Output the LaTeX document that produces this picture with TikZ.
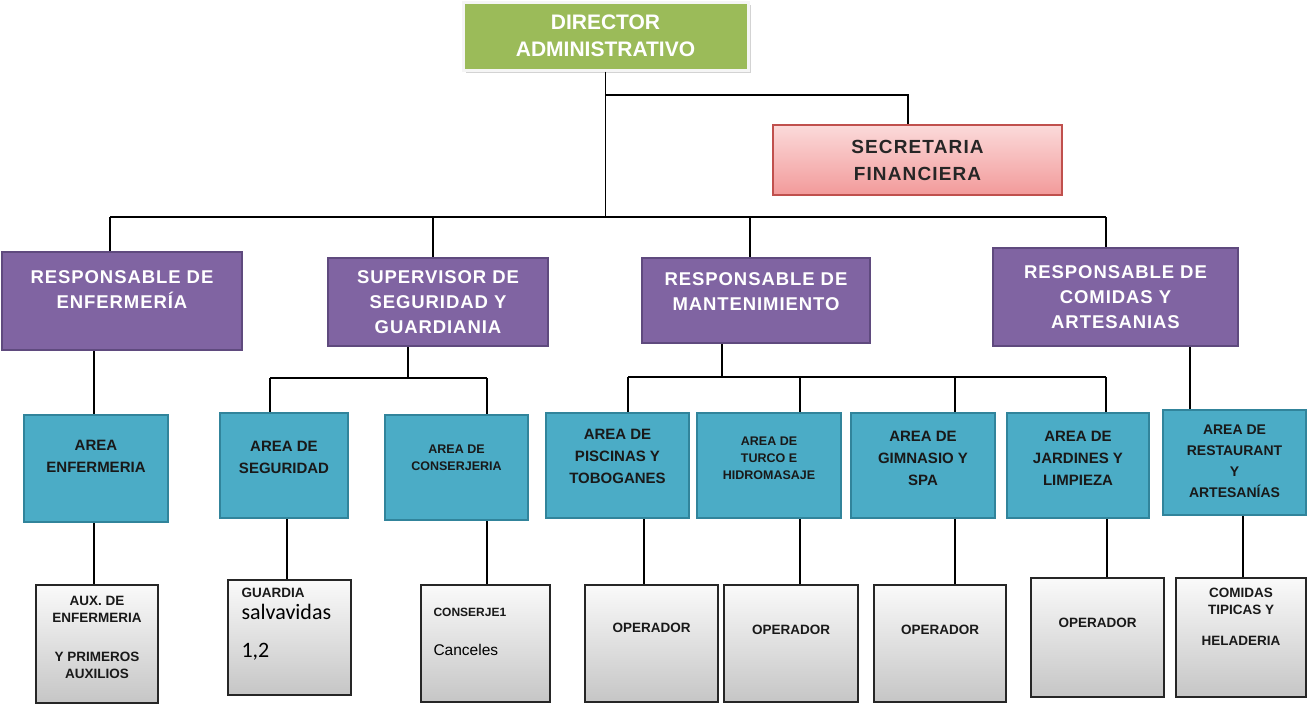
\documentclass[tikz,border=0pt]{standalone}
\usepackage{fontspec}
\setmainfont{Liberation Sans}
\newfontfamily\calib{Carlito}
\usetikzlibrary{shadows}

\definecolor{dirgreen}{HTML}{9BBB59}
\definecolor{secpinkA}{HTML}{FBDADA}
\definecolor{secpinkB}{HTML}{F29A9A}
\definecolor{secred}{HTML}{C0504D}
\definecolor{resppurple}{HTML}{8064A2}
\definecolor{respborder}{HTML}{5F4A7E}
\definecolor{areateal}{HTML}{4BACC6}
\definecolor{areaborder}{HTML}{31849B}

\tikzset{
  dirbox/.style={rectangle, fill=dirgreen, draw=white!96!black, line width=3pt,
    drop shadow={opacity=0.35}, minimum width=285, minimum height=68,
    text=white, font=\bfseries\fontsize{21}{27}\selectfont, align=center},
  secbox/.style={rectangle, top color=secpinkA, bottom color=secpinkB, draw=secred,
    line width=1.5pt, minimum width=289, minimum height=70, text=black!85,
    font=\bfseries\fontsize{19}{27}\selectfont\addfontfeatures{LetterSpace=6}, align=center},
  respbox/.style={rectangle, fill=resppurple, draw=respborder, line width=2.5pt},
  resptext/.style={text=white, align=center,
    font=\bfseries\fontsize{18.5}{25}\selectfont\addfontfeatures{LetterSpace=5}},
  areabox/.style={rectangle, fill=areateal, draw=areaborder, line width=2.5pt,
    minimum width=143, minimum height=105},
  areatext/.style={text=black!90, align=center, font=\bfseries\fontsize{15}{22}\selectfont},
  areasmall/.style={text=black!90, align=center, font=\bfseries\fontsize{12.5}{17}\selectfont},
  staffbox/.style={rectangle, top color=gray!4, bottom color=gray!45, draw=black!85,
    line width=1.5pt},
  stafftext/.style={text=black!90, align=center, font=\bfseries\fontsize{13.5}{17}\selectfont},
  link/.style={line width=1.5pt, black}
}

\begin{document}
\begin{tikzpicture}[x=1pt,y=-1pt]
  \useasboundingbox (0,0) rectangle (1310,704);

  % top of the chart
  \node[dirbox] (dir) at (605.5,36) {DIRECTOR\\ADMINISTRATIVO};
  \node[secbox] (sec) at (917.5,160) {SECRETARIA\\FINANCIERA};

  % responsables
  \node[respbox, minimum width=240, minimum height=98] (r1) at (122,301) {};
  \node[resptext] (r1t) at (122,290) {RESPONSABLE DE\\ENFERMERÍA};
  \node[respbox, minimum width=220, minimum height=88] (r2) at (438,302) {};
  \node[resptext] (r2t) at (438,302) {SUPERVISOR DE\\SEGURIDAD Y\\GUARDIANIA};
  \node[respbox, minimum width=228, minimum height=85] (r3) at (756,300.5) {};
  \node[resptext] (r3t) at (756,291.5) {RESPONSABLE DE\\MANTENIMIENTO};
  \node[respbox, minimum width=245, minimum height=98] (r4) at (1115.5,297) {};
  \node[resptext] (r4t) at (1115.5,297) {RESPONSABLE DE\\COMIDAS Y\\ARTESANIAS};

  % areas
  \node[areabox, minimum width=144, minimum height=107] (a1) at (96,468.5) {};
  \node[areatext] (a1t) at (96,456.5) {AREA\\ENFERMERIA};
  \node[areabox, minimum width=128] (a2) at (284,465.5) {};
  \node[areatext] (a2t) at (284,457) {AREA DE\\SEGURIDAD};
  \node[areabox] (a3) at (456.5,467.5) {};
  \node[areasmall] (a3t) at (456.5,458) {AREA DE\\CONSERJERIA};
  \node[areabox] (a4) at (617.5,465.5) {};
  \node[areatext] (a4t) at (617.5,456) {AREA DE\\PISCINAS Y\\TOBOGANES};
  \node[areabox, minimum width=144] (a5) at (769,465.5) {};
  \node[areasmall] (a5t) at (769,458) {AREA DE\\TURCO E\\HIDROMASAJE};
  \node[areabox, minimum width=144] (a6) at (923,465.5) {};
  \node[areatext] (a6t) at (923,458) {AREA DE\\GIMNASIO Y\\SPA};
  \node[areabox, minimum width=142] (a7) at (1078,465.5) {};
  \node[areatext] (a7t) at (1078,458) {AREA DE\\JARDINES Y\\LIMPIEZA};
  \node[areabox] (a8) at (1234.5,462.5) {};
  \node[areatext, font=\bfseries\fontsize{14}{21}\selectfont] (a8t) at (1234.5,461.5)
    {AREA DE\\RESTAURANT\\Y\\ARTESANÍAS};

  % staff
  \node[staffbox, minimum width=122, minimum height=118] (g1) at (97,644) {};
  \node[stafftext] (g1t) at (97,637) {AUX. DE\\ENFERMERIA\\[22pt]Y PRIMEROS\\AUXILIOS};
  \node[staffbox, minimum width=123, minimum height=115] (g2) at (289.5,637.5) {};
  \node[stafftext, anchor=west] (g2a) at (238,593) {GUARDIA};
  \node[anchor=west, font=\calib\fontsize{22}{26}\selectfont] (g2b) at (238,612) {salvavidas};
  \node[anchor=west, font=\calib\fontsize{22}{26}\selectfont] (g2c) at (238,652) {1,2};
  \node[staffbox, minimum width=129, minimum height=117] (g3) at (485.5,643.5) {};
  \node[stafftext, anchor=west, font=\bfseries\fontsize{12}{15}\selectfont] (g3a) at (430,612) {CONSERJE1};
  \node[anchor=west, font=\fontsize{15.5}{18}\selectfont] (g3b) at (430,650) {Canceles};
  \node[staffbox, minimum width=133, minimum height=117] (g4) at (651.5,643.5) {};
  \node[stafftext] (g4t) at (651.5,628) {OPERADOR};
  \node[staffbox, minimum width=134, minimum height=117] (g5) at (791,643.5) {};
  \node[stafftext] (g5t) at (791,630) {OPERADOR};
  \node[staffbox, minimum width=132, minimum height=117] (g6) at (940,643.5) {};
  \node[stafftext] (g6t) at (940,630) {OPERADOR};
  \node[staffbox, minimum width=133, minimum height=119] (g7) at (1097.5,637.5) {};
  \node[stafftext] (g7t) at (1097.5,623) {OPERADOR};
  \node[staffbox, minimum width=130, minimum height=119] (g8) at (1241,637.5) {};
  \node[stafftext] (g8t) at (1241,617) {COMIDAS\\TIPICAS Y\\[14pt]HELADERIA};

  % lines from the director
  \coordinate (busL) at (110,217);
  \coordinate (busR) at (1106,217);
  \coordinate (secK) at (908,95);
  \draw[link] (dir.south) -- (dir.south |- busL);
  \draw[link] (dir.south |- secK) -- (secK) -- (secK |- sec.north);
  \draw[link] (busL) -- (busR);
  \foreach \r/\x in {r1/110, r2/433, r3/750, r4/1106}{
    \coordinate (k) at (\x,217);
    \draw[link] (k) -- (k |- \r.north);
  }

  % responsables to areas
  \coordinate (k1) at (94,0);
  \draw[link] (k1 |- r1.south) -- (k1 |- a1.north);
  \coordinate (k2) at (408,378);
  \coordinate (s2a) at (270,378);
  \coordinate (s2b) at (487,378);
  \draw[link] (k2 |- r2.south) -- (k2);
  \draw[link] (s2a) -- (s2b);
  \draw[link] (s2a) -- (s2a |- a2.north);
  \draw[link] (s2b) -- (s2b |- a3.north);
  \coordinate (k3) at (722,377);
  \coordinate (s3a) at (628,377);
  \coordinate (s3b) at (1106,377);
  \draw[link] (k3 |- r3.south) -- (k3);
  \draw[link] (s3a) -- (s3b);
  \foreach \a/\x in {a4/628, a5/800, a6/955, a7/1106}{
    \coordinate (k) at (\x,377);
    \draw[link] (k) -- (k |- \a.north);
  }
  \coordinate (k4) at (1190,0);
  \draw[link] (k4 |- r4.south) -- (k4 |- a8.north);

  % areas to staff
  \foreach \a/\g/\x in {a1/g1/94, a2/g2/287, a3/g3/487, a4/g4/644,
                        a5/g5/800, a6/g6/955, a7/g7/1107, a8/g8/1243}{
    \coordinate (k) at (\x,0);
    \draw[link] (k |- \a.south) -- (k |- \g.north);
  }
\end{tikzpicture}
\end{document}
